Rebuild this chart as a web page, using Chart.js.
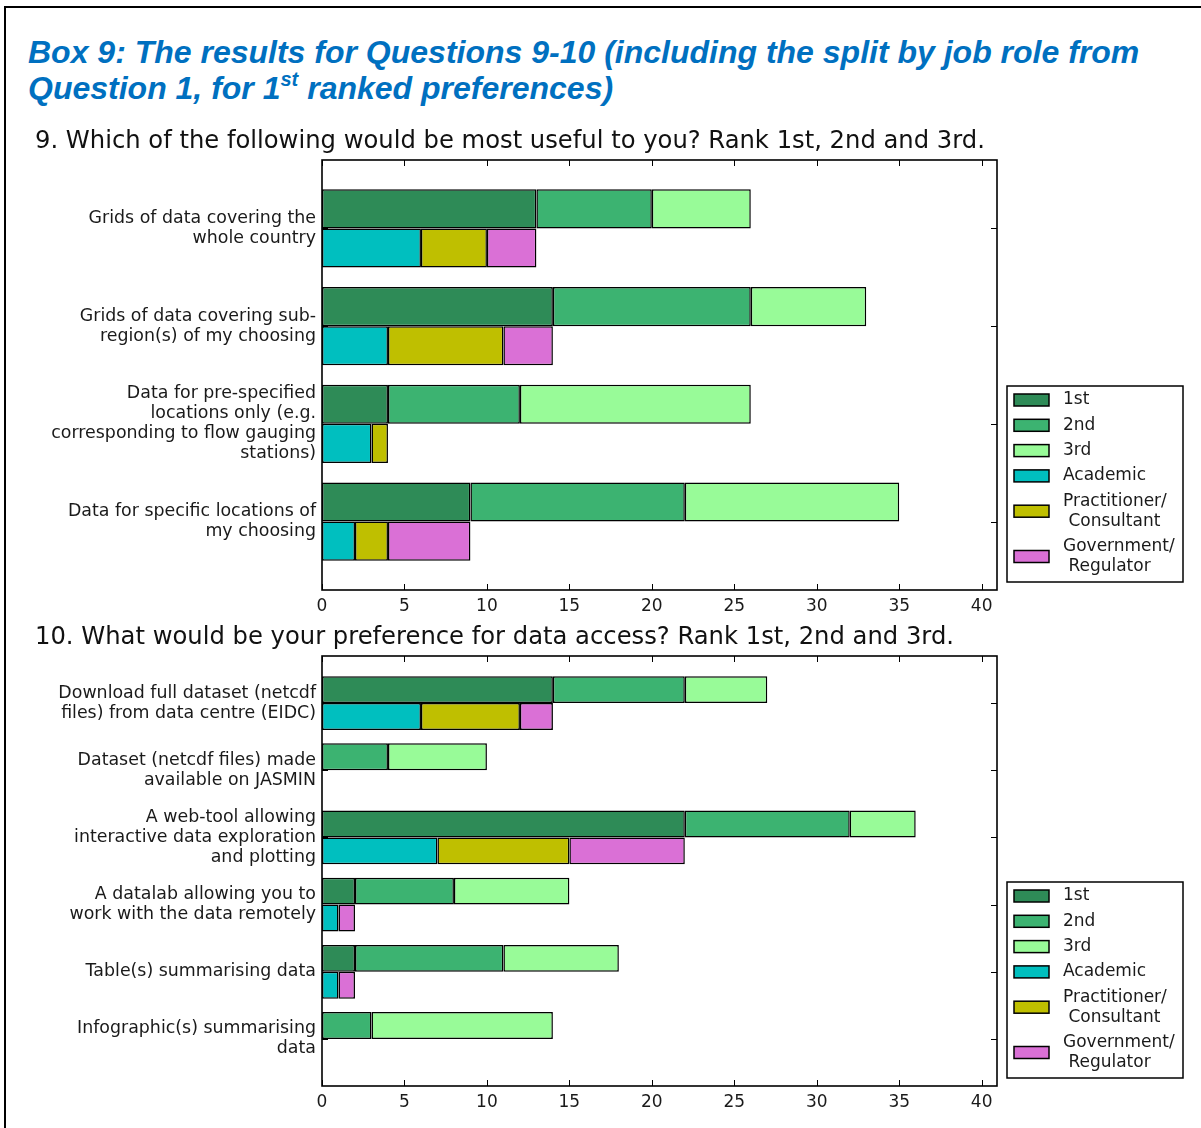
<!DOCTYPE html>
<html lang="en">
<head>
<meta charset="utf-8"/>
<title>Box 9: Questions 9-10</title>
<script src="https://cdn.jsdelivr.net/npm/chart.js@4.4.0/dist/chart.umd.min.js"></script>
<style>
    html, body { margin: 0; padding: 0; background: #fff; overflow: hidden; }
    .page { position: relative; width: 1201px; height: 1128px; overflow: hidden; }
    .frame { position: absolute; left: 4px; top: 6px; width: 1400px; height: 1400px; border: 2px solid #000; }
    .title {
        position: absolute; left: 28px; top: 34px;
        font: italic bold 32px/36px "Liberation Sans", Arial, sans-serif;
        color: #0070c0; white-space: nowrap;
    }
    .title sup { font-size: 20px; vertical-align: 0; position: relative; top: -13px; }
    .question {
        position: absolute; left: 35px;
        font: 24.25px/24px "DejaVu Sans", sans-serif;
        color: #111; white-space: nowrap; z-index: 2;
    }
    canvas { position: absolute; left: 0; }
</style>
</head>

<body>
<div class="page">
    <div class="frame"></div>
    <div class="title">Box 9: The results for Questions 9-10 (including the split by job role from<br>Question 1, for 1<sup>st</sup> ranked preferences)</div>

    <div class="question" style="top:128px">9. Which of the following would be most useful to you? Rank 1st, 2nd and 3rd.</div>
    <canvas id="chart9" width="1201" height="480" style="top:150px"></canvas>

    <div class="question" style="top:624px">10. What would be your preference for data access? Rank 1st, 2nd and 3rd.</div>
    <canvas id="chart10" width="1201" height="480" style="top:646px"></canvas>
</div>

<script>
    // Question 9
    const q9Labels = [
        'Grids of data covering the\nwhole country',
        'Grids of data covering sub-\nregion(s) of my choosing',
        'Data for pre-specified\nlocations only (e.g.\ncorresponding to flow gauging\nstations)',
        'Data for specific locations of\nmy choosing'
    ];
    const q9First = [13, 14, 4, 9];
    const q9Second = [7, 12, 8, 13];
    const q9Third = [6, 7, 14, 13];
    const q9Academic = [6, 4, 3, 2];
    const q9Practitioner = [4, 7, 1, 2];
    const q9Government = [3, 3, 0, 5];

    // Question 10
    const q10Labels = [
        'Download full dataset (netcdf\nfiles) from data centre (EIDC)',
        'Dataset (netcdf files) made\navailable on JASMIN',
        'A web-tool allowing\ninteractive data exploration\nand plotting',
        'A datalab allowing you to\nwork with the data remotely',
        'Table(s) summarising data',
        'Infographic(s) summarising\ndata'
    ];
    const q10First = [14, 0, 22, 2, 2, 0];
    const q10Second = [8, 4, 10, 6, 9, 3];
    const q10Third = [5, 6, 4, 7, 7, 11];
    const q10Academic = [6, 0, 7, 1, 1, 0];
    const q10Practitioner = [6, 0, 8, 0, 0, 0];
    const q10Government = [2, 0, 7, 1, 1, 0];

    const xTicks = [0, 5, 10, 15, 20, 25, 30, 35, 40];
    const xMax = 40.93;

    const seriesNames = ['1st', '2nd', '3rd', 'Academic', 'Practitioner/\n Consultant', 'Government/\n Regulator'];
    const seriesColours = ['#2e8b57', '#3cb371', '#98fb98', '#00bfbf', '#bfbf00', '#da70d6'];
    const fontFamily = '"DejaVu Sans", sans-serif';
    const textColour = '#1a1a1a';

    function buildDatasets(series) {
        return series.map((values, k) => ({
            label: seriesNames[k],
            stack: k < 3 ? 'rank' : 'role',
            data: values.map((v, i) => ({x: v || null, y: i})),
            backgroundColor: seriesColours[k],
            borderColor: '#000',
            borderWidth: 1.5,
            borderSkipped: false,
            categoryPercentage: 0.8,
            barPercentage: 1.0
        }));
    }

    // axes box with inward ticks on all four sides
    const framePlugin = {
        id: 'boxFrame',
        afterDatasetsDraw(chart) {
            const {ctx, chartArea: a, scales: {x, y}} = chart;
            ctx.save();
            ctx.strokeStyle = '#000';
            ctx.lineWidth = 1;
            ctx.beginPath();
            x.ticks.forEach(t => {
                const px = Math.round(x.getPixelForValue(t.value)) + 0.5;
                ctx.moveTo(px, a.top); ctx.lineTo(px, a.top + 6);
                ctx.moveTo(px, a.bottom); ctx.lineTo(px, a.bottom - 6);
            });
            y.ticks.forEach(t => {
                const py = Math.round(y.getPixelForValue(t.value)) + 0.5;
                ctx.moveTo(a.left, py); ctx.lineTo(a.left + 6, py);
                ctx.moveTo(a.right, py); ctx.lineTo(a.right - 6, py);
            });
            ctx.stroke();
            ctx.lineWidth = 1.6;
            ctx.strokeRect(a.left, a.top, a.right - a.left, a.bottom - a.top);
            ctx.restore();
        }
    };

    // legend box to the right of the plot, sitting near the bottom
    const legendPlugin = {
        id: 'sideLegend',
        afterDraw(chart) {
            const {ctx, chartArea: a} = chart;
            const lineH = 20, gap = 5.3, padTop = 4, padBottom = 5.5;
            const items = chart.data.datasets.map(ds => ({lines: ds.label.split('\n'), colour: ds.backgroundColor}));
            const h = padTop + padBottom + items.reduce((s, it) => s + it.lines.length * lineH, 0) + gap * (items.length - 1);
            const left = a.right + 10, w = 176, bottom = a.bottom - 8, top = bottom - h;

            ctx.save();
            ctx.fillStyle = '#fff';
            ctx.fillRect(left, top, w, h);
            ctx.strokeStyle = '#000';
            ctx.lineWidth = 1.5;
            ctx.strokeRect(left, top, w, h);
            ctx.font = '17px ' + fontFamily;
            ctx.textBaseline = 'middle';
            ctx.textAlign = 'left';

            let yy = top + padTop;
            items.forEach(it => {
                const rowH = it.lines.length * lineH;
                const cy = yy + rowH / 2;
                ctx.fillStyle = it.colour;
                ctx.fillRect(left + 7, cy - 6, 35, 12);
                ctx.lineWidth = 1.5;
                ctx.strokeRect(left + 7, cy - 6, 35, 12);
                ctx.fillStyle = textColour;
                it.lines.forEach((ln, j) => ctx.fillText(ln, left + 56, yy + lineH * j + lineH / 2));
                yy += rowH + gap;
            });
            ctx.restore();
        }
    };

    function makeChart(id, labels, series) {
        const n = labels.length;
        return new Chart(document.getElementById(id), {
            type: 'bar',
            data: { datasets: buildDatasets(series) },
            options: {
                indexAxis: 'y',
                responsive: false,
                animation: false,
                devicePixelRatio: 1,
                layout: { padding: { top: 10, right: 204, bottom: 0, left: 0 } },
                plugins: {
                    legend: { display: false },
                    tooltip: { enabled: false }
                },
                scales: {
                    x: {
                        type: 'linear',
                        min: 0,
                        max: xMax,
                        stacked: true,
                        grid: { display: false, drawTicks: false },
                        border: { display: false },
                        afterBuildTicks: s => { s.ticks = xTicks.map(v => ({value: v})); },
                        ticks: { padding: 6, color: textColour, font: { family: fontFamily, size: 17 } },
                        afterFit: s => {
                            s.height = 40;
                            s.paddingLeft = 0;
                            s.paddingRight = 0;
                        }
                    },
                    y: {
                        type: 'linear',
                        reverse: true,
                        offset: false,
                        min: -0.7,
                        max: n - 0.3,
                        grid: { display: false, drawTicks: false, offset: false },
                        border: { display: false },
                        afterBuildTicks: s => { s.ticks = labels.map((_, i) => ({value: i})); },
                        ticks: {
                            autoSkip: false,
                            padding: 6,
                            color: textColour,
                            font: { family: fontFamily, size: 17.4, lineHeight: 1.15 },
                            callback: v => labels[v] !== undefined ? labels[v].split('\n') : ''
                        },
                        afterFit: s => {
                            s.width = 322;
                            s.paddingTop = 0;
                            s.paddingBottom = 0;
                        }
                    }
                }
            },
            plugins: [framePlugin, legendPlugin]
        });
    }

    makeChart('chart9', q9Labels, [q9First, q9Second, q9Third, q9Academic, q9Practitioner, q9Government]);
    makeChart('chart10', q10Labels, [q10First, q10Second, q10Third, q10Academic, q10Practitioner, q10Government]);
</script>
</body>
</html>
